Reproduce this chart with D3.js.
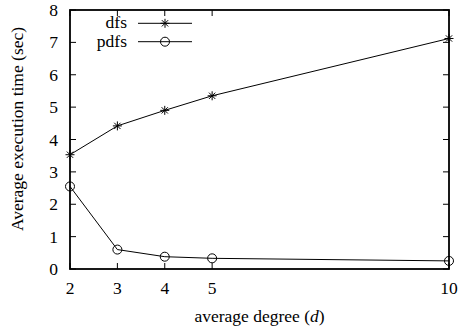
<!DOCTYPE html>
<html>
<head>
<meta charset="utf-8">
<script src="https://cdn.jsdelivr.net/npm/d3@7"></script>
<style>
  body { margin: 0; background: #fff; }
</style>
</head>
<body>
<svg id="chart"></svg>
<script>
const degrees = [2, 3, 4, 5, 10];
const dfsTimes = [3.53, 4.42, 4.9, 5.35, 7.12];
const pdfsTimes = [2.55, 0.6, 0.38, 0.33, 0.25];
const yTicks = [0, 1, 2, 3, 4, 5, 6, 7, 8];

const width = 460;
const height = 329;
const margin = { top: 10, right: 11, bottom: 60, left: 70 };
const fontSize = 17.5;

const svg = d3.select("#chart")
  .attr("width", width).attr("height", height)
  .attr("font-family", "'Liberation Serif', 'Times New Roman', serif");

const x = d3.scaleLinear().domain([2, 10]).range([margin.left, width - margin.right]);
const y = d3.scaleLinear().domain([0, 8]).range([height - margin.bottom, margin.top]);

// tick marks on all four sides, pointing inward
const tickLen = 6;
const ticks = svg.append("g").attr("stroke", "#000").attr("stroke-width", 1);
ticks.selectAll("line.xb").data(degrees).join("line")
  .attr("x1", d => x(d)).attr("x2", d => x(d))
  .attr("y1", y(0)).attr("y2", y(0) - tickLen);
ticks.selectAll("line.xt").data(degrees).join("line")
  .attr("x1", d => x(d)).attr("x2", d => x(d))
  .attr("y1", y(8)).attr("y2", y(8) + tickLen);
ticks.selectAll("line.yl").data(yTicks).join("line")
  .attr("x1", x(2)).attr("x2", x(2) + tickLen)
  .attr("y1", d => y(d)).attr("y2", d => y(d));
ticks.selectAll("line.yr").data(yTicks).join("line")
  .attr("x1", x(10)).attr("x2", x(10) - tickLen)
  .attr("y1", d => y(d)).attr("y2", d => y(d));

// tick labels
svg.append("g").selectAll("text").data(degrees).join("text")
  .attr("x", d => x(d)).attr("y", y(0) + 25)
  .attr("text-anchor", "middle").attr("font-size", fontSize)
  .text(d => d);
svg.append("g").selectAll("text").data(yTicks).join("text")
  .attr("x", x(2) - 12).attr("y", d => y(d) + 6)
  .attr("text-anchor", "end").attr("font-size", fontSize)
  .text(d => d);

// frame
svg.append("rect")
  .attr("x", x(2)).attr("y", y(8))
  .attr("width", x(10) - x(2)).attr("height", y(0) - y(8))
  .attr("fill", "none").attr("stroke", "#000").attr("stroke-width", 1.8);

// axis titles
svg.append("text")
  .attr("transform", "translate(23,129) rotate(-90)")
  .attr("text-anchor", "middle").attr("font-size", fontSize)
  .text("Average execution time (sec)");
const xt = svg.append("text")
  .attr("x", (x(2) + x(10)) / 2).attr("y", 322)
  .attr("text-anchor", "middle").attr("font-size", fontSize);
xt.append("tspan").text("average degree (");
xt.append("tspan").attr("font-style", "italic").text("d");
xt.append("tspan").text(")");

const line = d3.line().x((d, i) => x(degrees[i])).y(d => y(d));

function star(g, cx, cy, r) {
  const s = r * 0.7;
  g.append("path")
    .attr("d", `M${cx - r},${cy}H${cx + r}M${cx},${cy - r}V${cy + r}` +
      `M${cx - s},${cy - s}L${cx + s},${cy + s}M${cx - s},${cy + s}L${cx + s},${cy - s}`)
    .attr("stroke", "#000").attr("stroke-width", 1).attr("fill", "none");
}
function circ(g, cx, cy, r) {
  g.append("circle").attr("cx", cx).attr("cy", cy).attr("r", r)
    .attr("fill", "none").attr("stroke", "#000").attr("stroke-width", 1);
}

const series = [
  { name: "dfs", values: dfsTimes, marker: star },
  { name: "pdfs", values: pdfsTimes, marker: circ },
];

series.forEach((s, k) => {
  const g = svg.append("g");
  g.append("path").attr("d", line(s.values))
    .attr("fill", "none").attr("stroke", "#000").attr("stroke-width", 1);
  s.values.forEach((v, i) => s.marker(g, x(degrees[i]), y(v), 4.5));

  // legend entry
  const ly = 23.3 + k * 18.4;
  g.append("text").attr("x", 127).attr("y", ly + 5)
    .attr("text-anchor", "end").attr("font-size", fontSize).text(s.name);
  g.append("line").attr("x1", 138).attr("x2", 192).attr("y1", ly).attr("y2", ly)
    .attr("stroke", "#000").attr("stroke-width", 1);
  s.marker(g, 165, ly, 4.5);
});
</script>
</body>
</html>
